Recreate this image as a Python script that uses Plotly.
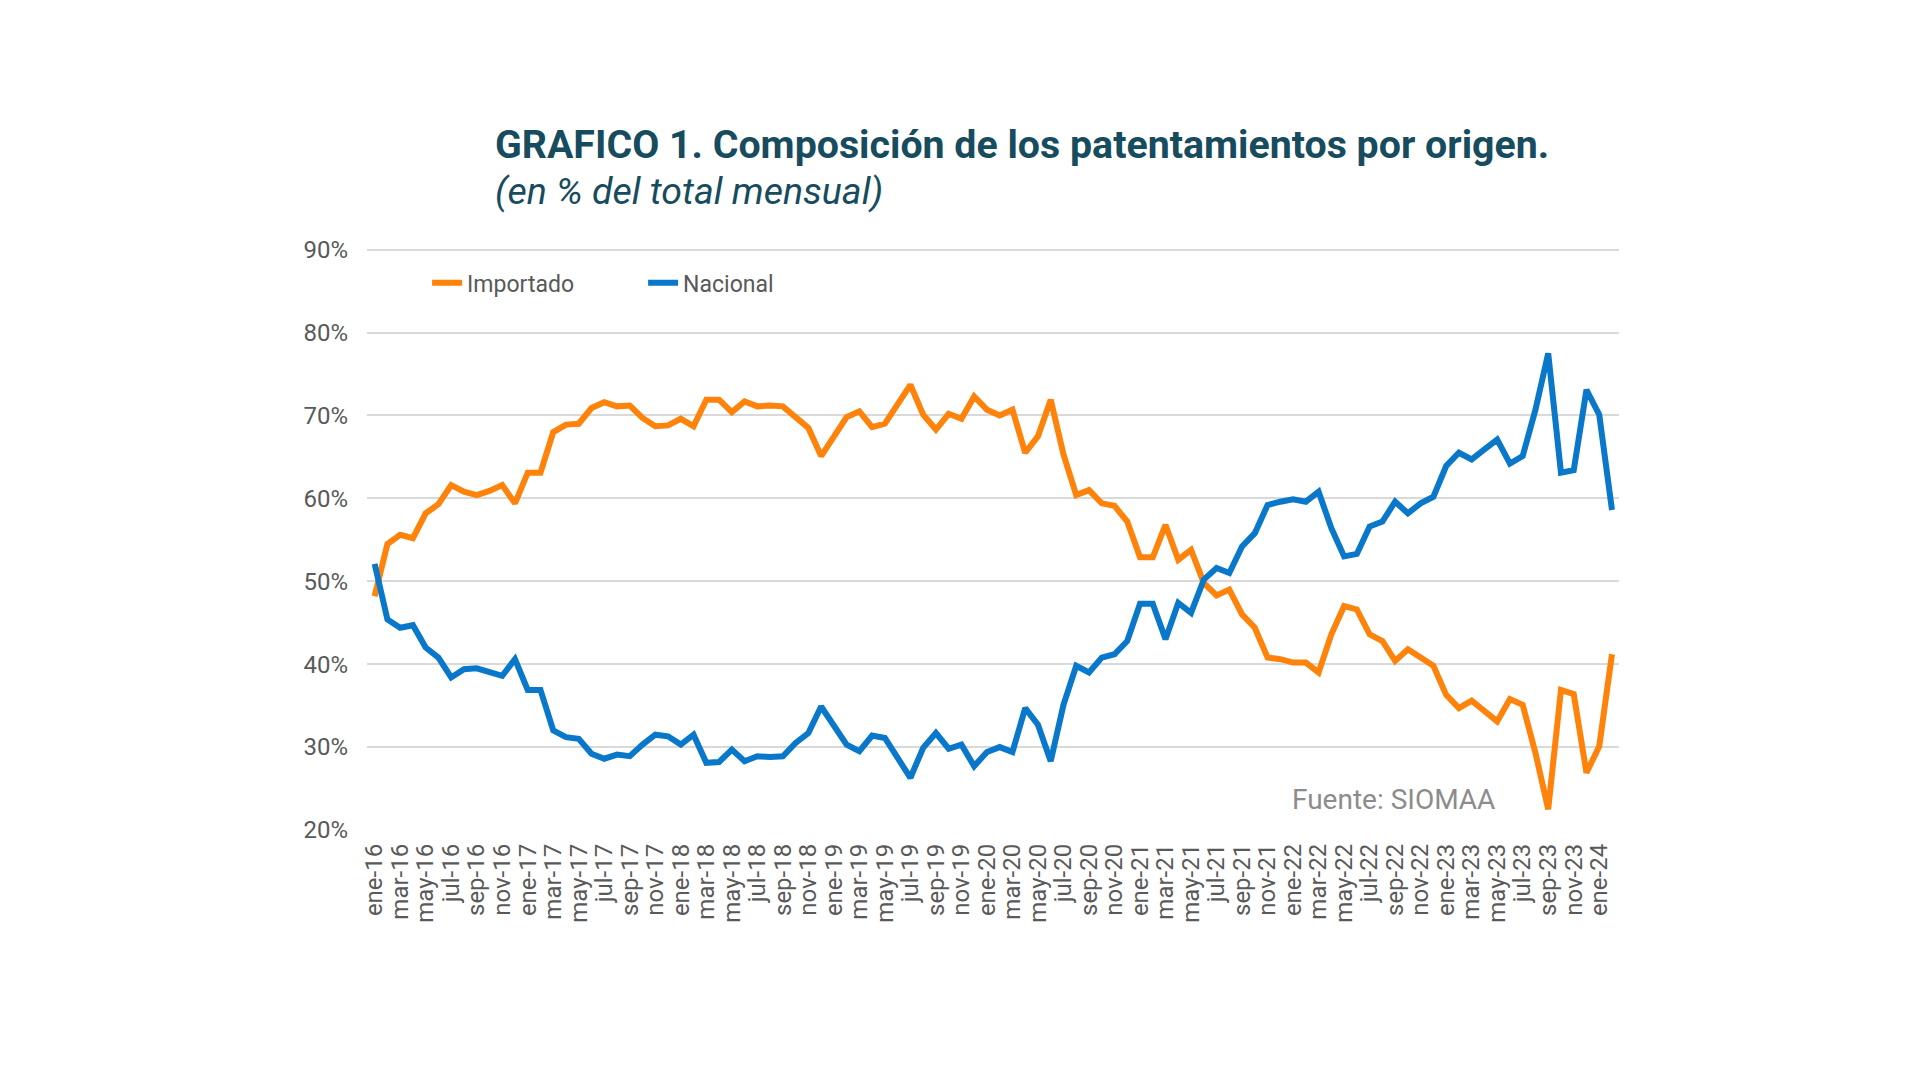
import plotly.graph_objects as go

# ---- data -------------------------------------------------------------
mes_abrev = ["ene", "feb", "mar", "abr", "may", "jun",
             "jul", "ago", "sep", "oct", "nov", "dic"]
anios = ["16", "17", "18", "19", "20", "21", "22", "23", "24"]
meses = [f"{m}-{a}" for a in anios for m in mes_abrev][:98]   # ene-16 ... feb-24

importado = [48.2, 54.5, 55.6, 55.2, 58.2, 59.3, 61.6, 60.8, 60.4, 60.9,
             61.6, 59.4, 63.1, 63.1, 68.0, 68.9, 69.0, 70.9, 71.6, 71.1,
             71.2, 69.7, 68.7, 68.8, 69.6, 68.7, 71.9, 71.9, 70.4, 71.7,
             71.1, 71.2, 71.1, 69.9, 68.5, 65.1, 67.5, 69.8, 70.5, 68.6,
             69.0, 71.3, 73.7, 70.1, 68.3, 70.2, 69.6, 72.3, 70.7, 70.0,
             70.7, 65.5, 67.5, 71.9, 65.3, 60.4, 61.0, 59.4, 59.1, 57.2,
             52.9, 52.9, 56.8, 52.6, 53.8, 49.8, 48.3, 49.0, 46.0, 44.4,
             40.8, 40.6, 40.2, 40.2, 39.0, 43.6, 47.0, 46.6, 43.6, 42.8,
             40.4, 41.8, 40.8, 39.8, 36.3, 34.7, 35.6, 34.3, 33.1, 35.8,
             35.1, 29.3, 22.5, 36.9, 36.4, 26.9, 30.1, 41.2]

nacional = [52.1, 45.4, 44.4, 44.7, 42.0, 40.8, 38.4, 39.4, 39.5, 39.0,
            38.6, 40.6, 36.9, 36.9, 32.0, 31.2, 31.0, 29.2, 28.6, 29.1,
            28.9, 30.3, 31.5, 31.3, 30.3, 31.5, 28.1, 28.2, 29.7, 28.3,
            28.9, 28.8, 28.9, 30.5, 31.7, 34.9, 32.6, 30.3, 29.5, 31.4,
            31.1, 28.7, 26.3, 29.9, 31.7, 29.8, 30.3, 27.7, 29.4, 30.0,
            29.4, 34.7, 32.7, 28.3, 35.1, 39.8, 39.0, 40.8, 41.2, 42.8,
            47.3, 47.3, 43.0, 47.4, 46.2, 50.2, 51.6, 51.0, 54.2, 55.8,
            59.2, 59.6, 59.9, 59.6, 60.8, 56.4, 53.0, 53.3, 56.6, 57.2,
            59.6, 58.2, 59.4, 60.2, 63.9, 65.5, 64.7, 65.9, 67.1, 64.2,
            65.1, 70.7, 77.5, 63.1, 63.4, 73.1, 70.1, 58.6]

y_ticks = [20, 30, 40, 50, 60, 70, 80, 90]
x_ticks = meses[::2]

# ---- styles -----------------------------------------------------------
ORANGE = "#FF820A"
BLUE = "#0A78CA"
TITLE_COLOR = "#174B5E"
TICK_COLOR = "#595959"
GRID_COLOR = "#D9D9D9"
FONT = "Roboto"

# plot area (page pixels, accounting for the 8px body margin)
L, R, T, B = 359, 1611, 240.3, 822.5
PW, PH = R - L, B - T

fig = go.Figure()
fig.add_trace(go.Scatter(x=meses, y=importado, name="Importado", mode="lines",
                         line=dict(color=ORANGE, width=6)))
fig.add_trace(go.Scatter(x=meses, y=nacional, name="Nacional", mode="lines",
                         line=dict(color=BLUE, width=6)))

def px(xp):
    return (xp - 8 - L) / PW

def py(yp):
    return (B - (yp - 8)) / PH

fig.update_layout(
    width=1920, height=1080,
    paper_bgcolor="white", plot_bgcolor="white",
    margin=dict(l=L, r=1920 - R, t=T, b=1080 - B, pad=0),
    font=dict(family=FONT, color=TICK_COLOR, size=24),
    showlegend=True,
    legend=dict(orientation="h", x=0.048, y=py(283), xanchor="left", yanchor="middle",
                font=dict(family=FONT, size=23, color=TICK_COLOR),
                bgcolor="rgba(0,0,0,0)", entrywidth=171, tracegroupgap=0,
                itemwidth=30),
    annotations=[
        dict(text="<b>GRAFICO 1. Composición de los patentamientos por origen.</b>",
             xref="paper", yref="paper", x=px(493), y=py(145),
             xanchor="left", yanchor="middle", showarrow=False,
             font=dict(family=FONT, size=39.3, color=TITLE_COLOR)),
        dict(text="<i>(en % del total mensual)</i>",
             xref="paper", yref="paper", x=px(493), y=py(191),
             xanchor="left", yanchor="middle", showarrow=False,
             font=dict(family=FONT, size=37.5, color=TITLE_COLOR)),
        dict(text="Fuente: SIOMAA",
             xref="paper", yref="paper", x=px(1497), y=py(800),
             xanchor="right", yanchor="middle", showarrow=False,
             font=dict(family=FONT, size=28, color="#8C8C8C")),
    ],
)

fig.update_xaxes(
    type="category", categoryorder="array", categoryarray=meses,
    range=[-0.6, 97.55],
    tickmode="array", tickvals=x_ticks, ticktext=x_ticks,
    tickangle=-90, showgrid=False, showline=False, zeroline=False,
    ticks="", ticklabelstandoff=8,
    tickfont=dict(family=FONT, size=24, color=TICK_COLOR),
)
fig.update_yaxes(
    range=[20, 90.2], tickmode="array", tickvals=y_ticks,
    ticktext=[f"{v}%" for v in y_ticks],
    showgrid=True, gridcolor=GRID_COLOR, gridwidth=2,
    showline=False, zeroline=False, ticks="", ticklabelstandoff=18,
    tickfont=dict(family=FONT, size=24, color=TICK_COLOR),
)

fig.write_html("out.html")
